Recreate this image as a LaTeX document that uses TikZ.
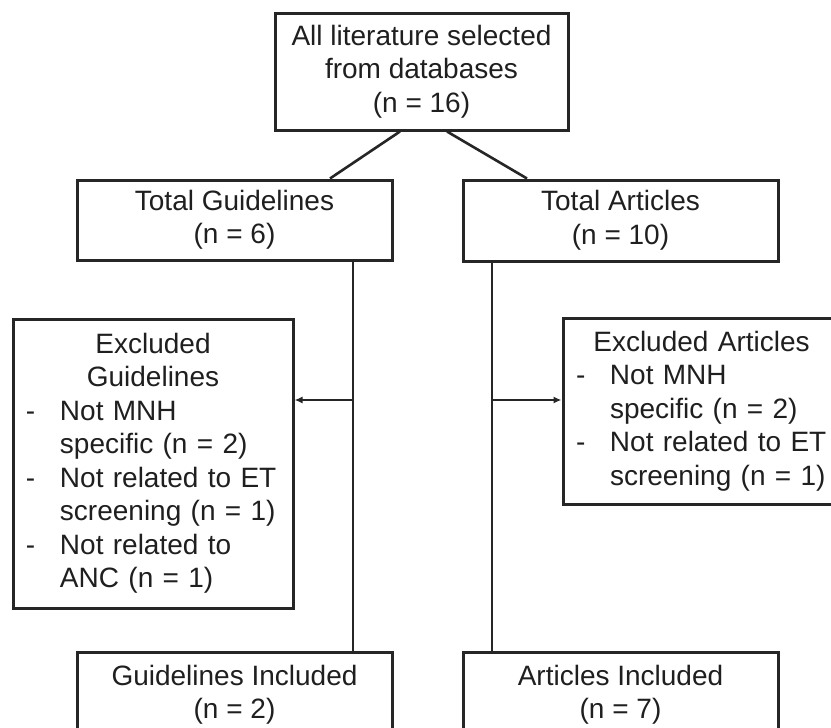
\documentclass[tikz,border=0pt]{standalone}
\usepackage{fontspec}
\setmainfont{Liberation Sans}
\usetikzlibrary{arrows.meta,calc}
\begin{document}
\begin{tikzpicture}[x=1pt,y=-1pt,
  box/.style={draw=black!85,line width=3pt,inner sep=0pt,align=center,
    text=black!88,font=\fontsize{28}{33.5}\selectfont},
  listbox/.style={box,align=left},
  conn/.style={draw=black!85,line width=2.6pt},
  arr/.style={conn,-{Latex[length=8pt,width=7pt]}}]
\useasboundingbox (0,0) rectangle (831,728);
\clip (0,0) rectangle (831,728);
\fill[white] (0,0) rectangle (831,728);
\node[box,minimum width=293pt,minimum height=117pt] (top) at (421.5,71.5)
  {All literature selected\\from databases\\(n = 16)};
\node[box,minimum width=315pt,minimum height=80pt] (tg) at (234.5,220)
  {Total Guidelines\\(n = 6)};
\node[box,minimum width=315pt,minimum height=81pt] (ta) at (620.5,220.5)
  {Total Articles\\(n = 10)};
\node[listbox,text width=280pt,minimum height=289pt] (eg) at (153,463.5)
  {\makebox[280pt]{Excluded}\\
   \makebox[280pt]{Guidelines}\\
   \hspace*{13pt}\makebox[34pt][l]{-}Not MNH\\
   \hspace*{47pt}specific (n = 2)\\
   \hspace*{13pt}\makebox[34pt][l]{-}Not related to ET\\
   \hspace*{47pt}screening (n = 1)\\
   \hspace*{13pt}\makebox[34pt][l]{-}Not related to\\
   \hspace*{47pt}ANC (n = 1)};
\node[listbox,text width=277pt,minimum height=186pt] (ea) at (701.5,411)
  {\makebox[277pt]{Excluded Articles}\\
   \hspace*{13pt}\makebox[34pt][l]{-}Not MNH\\
   \hspace*{47pt}specific (n = 2)\\
   \hspace*{13pt}\makebox[34pt][l]{-}Not related to ET\\
   \hspace*{47pt}screening (n = 1)};
\node[box,minimum width=315pt,minimum height=85pt] (gi) at (234.5,694.5)
  {Guidelines Included\\(n = 2)};
\node[box,minimum width=315pt,minimum height=85pt] (ai) at (620.5,694.5)
  {Articles Included\\(n = 7)};
\coordinate (gv) at (353,400);
\coordinate (av) at (492,400);
\draw[conn] ($(top.south)+(-21.5,0)$) -- ($(tg.north)+(95.5,0)$);
\draw[conn] ($(top.south)+(25.5,0)$) -- ($(ta.north)+(-93.5,0)$);
\draw[conn] (tg.south -| gv) -- (gi.north -| gv);
\draw[conn] (ta.south -| av) -- (ai.north -| av);
\draw[arr] (gv) -- (eg.east |- gv);
\draw[arr] (av) -- (ea.west |- av);
\end{tikzpicture}
\end{document}
